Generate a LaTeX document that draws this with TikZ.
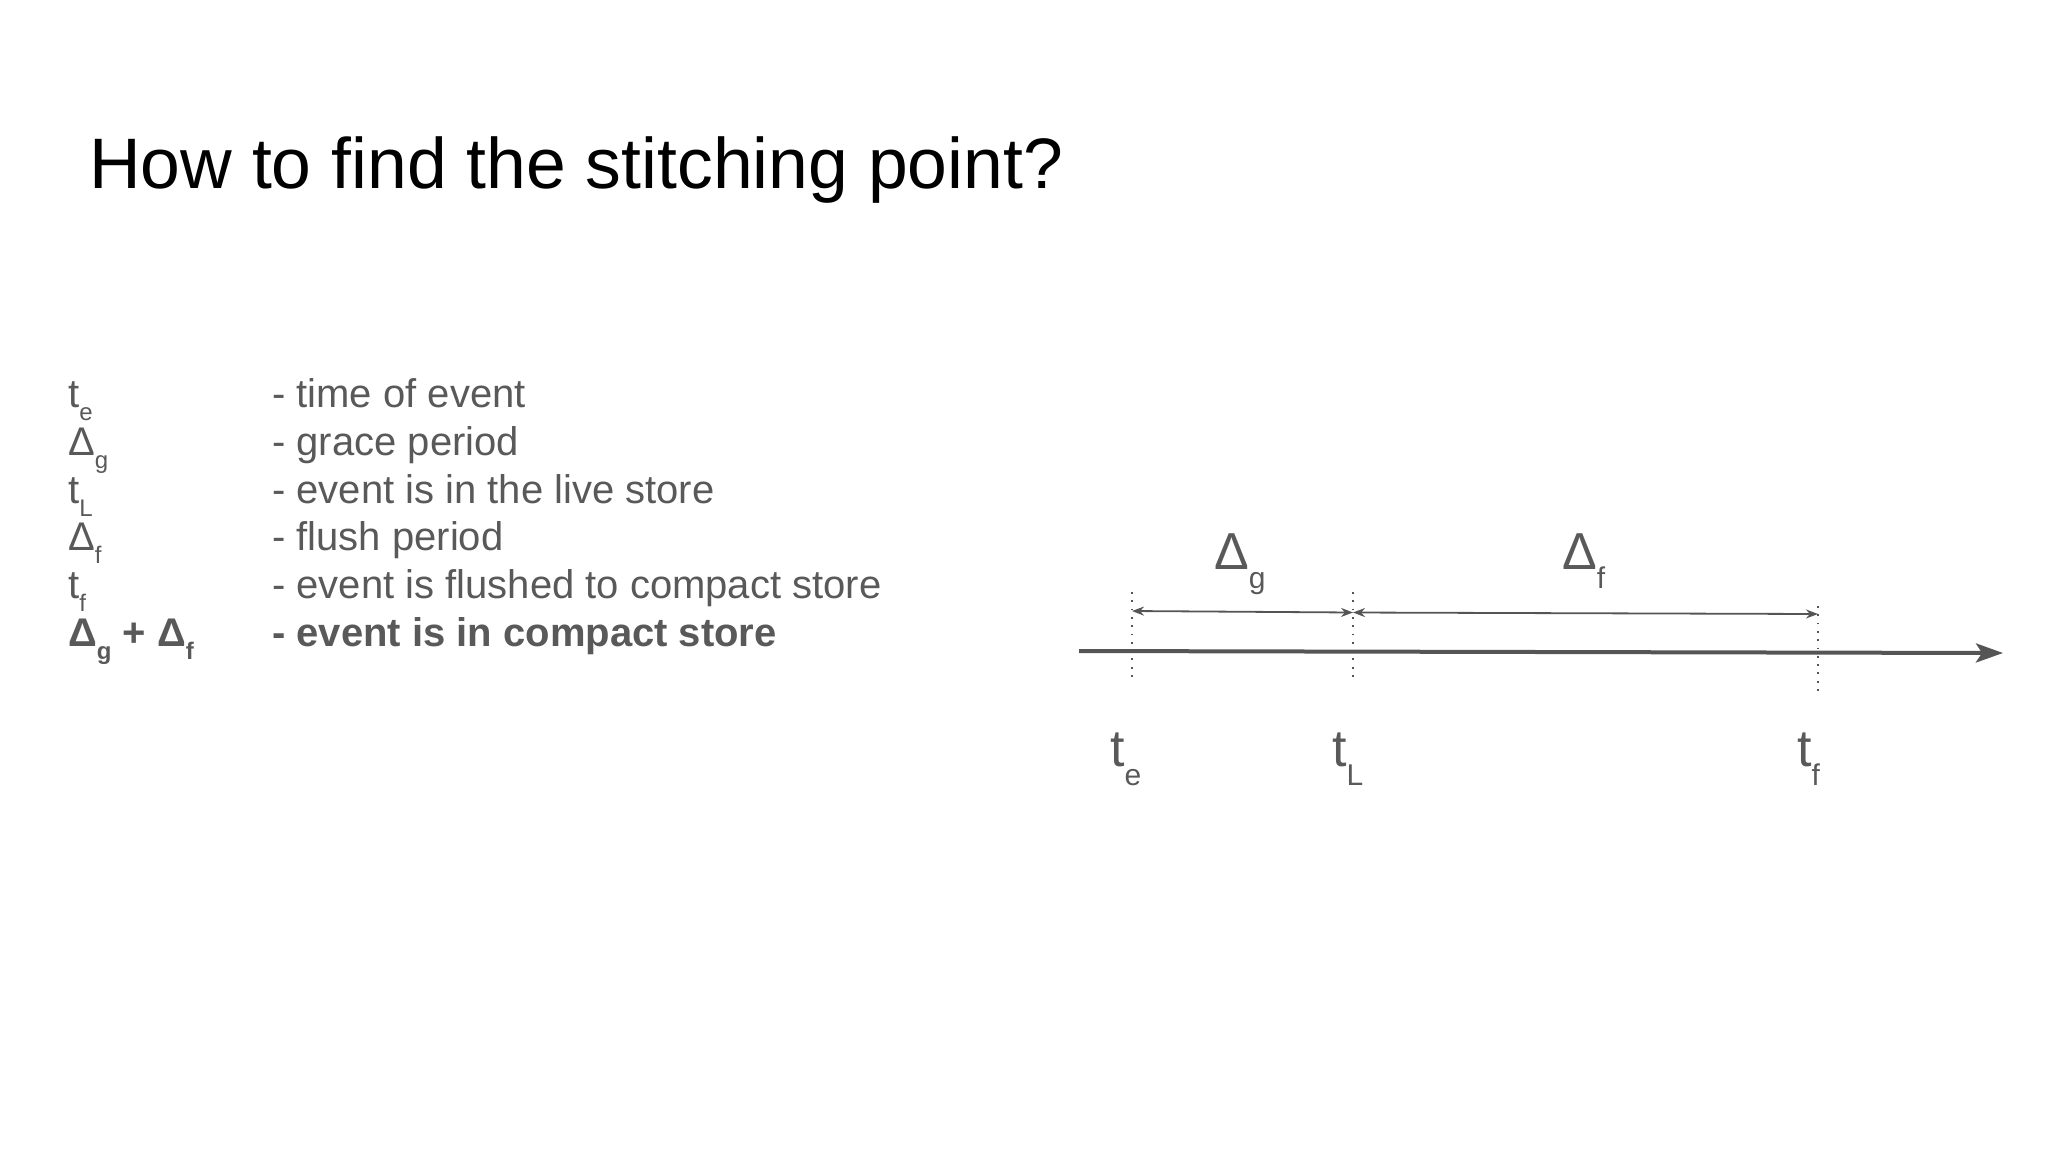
\documentclass[tikz,border=0pt]{standalone}
\usepackage{fontspec}
\setmainfont{Liberation Sans}
\usetikzlibrary{arrows.meta}
\definecolor{txtgray}{HTML}{595959}
\definecolor{lngray}{HTML}{555555}
\newcommand{\lsub}[1]{\raisebox{-13pt}{\fontsize{24}{24}\selectfont #1}}
\newcommand{\bsub}[1]{\raisebox{-19pt}{\fontsize{30}{30}\selectfont #1}}
\begin{document}
\begin{tikzpicture}[x=1pt,y=-1pt,
  lbl/.style={anchor=base west,inner sep=0pt,text=txtgray,font=\fontsize{40}{48}\selectfont},
  big/.style={anchor=base west,inner sep=0pt,text=txtgray,font=\fontsize{52}{58}\selectfont},
  axisline/.style={draw=lngray,line width=4pt,-{Stealth[length=27pt,width=19pt,inset=6pt]}},
  guide/.style={draw=lngray,line width=1.8pt,dash pattern=on 1.8pt off 6.5pt},
  span/.style={draw=lngray,line width=1.8pt,{Stealth[length=12pt,width=9pt]}-{Stealth[length=12pt,width=9pt]}}]
\useasboundingbox (0,0) rectangle (2048,1152);
% title
\node[anchor=base west,inner sep=0pt,font=\fontsize{71.5}{80}\selectfont] (title) at (89,188) {How to find the stitching point?};
% legend
\node[lbl] (s1) at (68,407) {t\lsub{e}};
\node[lbl] (s2) at (68,455) {Δ\lsub{g}};
\node[lbl] (s3) at (68,503) {t\lsub{L}};
\node[lbl] (s4) at (68,550) {Δ\lsub{f}};
\node[lbl] (s5) at (68,598) {t\lsub{f}};
\node[lbl] (s6) at (68,646) {\bfseries Δ\lsub{g} + Δ\lsub{f}};
\node[lbl] (d1) at (272,407) {- time of event};
\node[lbl] (d2) at (272,455) {- grace period};
\node[lbl] (d3) at (272,503) {- event is in the live store};
\node[lbl] (d4) at (272,550) {- flush period};
\node[lbl] (d5) at (272,598) {- event is flushed to compact store};
\node[lbl] (d6) at (272,646) {\bfseries - event is in compact store};
% timeline
\coordinate (ax0) at (1079,651);
\coordinate (ax1) at (2003,653);
\coordinate (teT) at (1132,592);
\coordinate (teB) at (1132,680);
\coordinate (tLT) at (1353,592);
\coordinate (tLB) at (1353,680);
\coordinate (tfT) at (1818,606);
\coordinate (tfB) at (1818,693);
\coordinate (ga) at (1132,611);
\coordinate (gb) at (1353,612.5);
\coordinate (fa) at (1353,612.5);
\coordinate (fb) at (1818,614);
\draw[guide] (teT) -- (teB);
\draw[guide] (tLT) -- (tLB);
\draw[guide] (tfT) -- (tfB);
\draw[axisline] (ax0) -- (ax1);
\draw[span] (ga) -- (gb);
\draw[span] (fa) -- (fb);
\node[big] (lg) at (1214,569) {Δ\bsub{g}};
\node[big] (lf) at (1562,569) {Δ\bsub{f}};
\node[big] (lte) at (1110,766) {t\bsub{e}};
\node[big] (ltL) at (1332,766) {t\bsub{L}};
\node[big] (ltf) at (1797,766) {t\bsub{f}};
\end{tikzpicture}
\end{document}
